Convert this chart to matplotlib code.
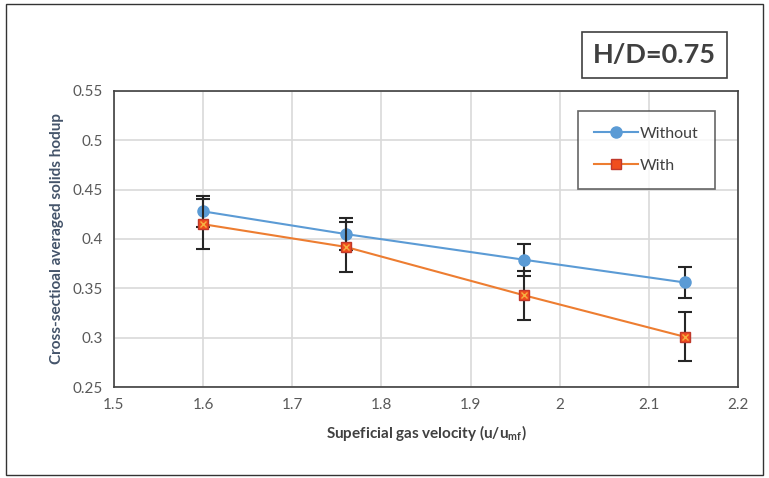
import matplotlib
matplotlib.use('Agg')
import matplotlib.pyplot as plt
from matplotlib.patches import Rectangle
from matplotlib.lines import Line2D

plt.rcParams['font.family'] = ['Lato', 'DejaVu Sans']

velocity = [1.6, 1.76, 1.96, 2.14]
holdup_without = [0.428, 0.405, 0.379, 0.356]
holdup_with = [0.415, 0.392, 0.343, 0.301]
err_without = [0.016, 0.016, 0.016, 0.016]
err_with = [0.025, 0.025, 0.025, 0.025]
x_ticks = [1.5, 1.6, 1.7, 1.8, 1.9, 2.0, 2.1, 2.2]
x_tick_labels = ['1.5', '1.6', '1.7', '1.8', '1.9', '2', '2.1', '2.2']
y_ticks = [0.25, 0.3, 0.35, 0.4, 0.45, 0.5, 0.55]
y_tick_labels = ['0.25', '0.3', '0.35', '0.4', '0.45', '0.5', '0.55']

fig = plt.figure(figsize=(7.69, 4.78), dpi=100)
ax = fig.add_axes([0.148, 0.190, 0.812, 0.620])

# outer chart border
fig.patches.append(Rectangle((0.008, 0.006), 0.984, 0.986, transform=fig.transFigure,
                             fill=False, edgecolor='#333333', linewidth=1.0))

ax.errorbar(velocity, holdup_without, yerr=err_without, color='#5B9BD5', lw=1.5,
            marker='o', ms=8, mfc='#5B9BD5', mec='#5B9BD5', ecolor='#262626',
            elinewidth=1.5, capsize=5, capthick=1.5, zorder=3)
ax.errorbar(velocity, holdup_with, yerr=err_with, color='#ED7D31', lw=1.5,
            marker='s', ms=7, mfc='#F04E1E', mec='#C0392B', ecolor='#262626',
            elinewidth=1.5, capsize=5, capthick=1.5, zorder=4)
ax.plot(velocity, holdup_with, ls='none', marker='x', ms=5, mew=1,
        color='#F5B041', zorder=5)

ax.set_xlim(1.5, 2.2)
ax.set_ylim(0.25, 0.55)
ax.set_xticks(x_ticks)
ax.set_xticklabels(x_tick_labels)
ax.set_yticks(y_ticks)
ax.set_yticklabels(y_tick_labels)
ax.tick_params(length=0, labelsize=11, labelcolor='#595959', pad=8)
ax.grid(True, color='#D9D9D9', lw=1.2)
ax.set_axisbelow(True)
for s in ax.spines.values():
    s.set_color('#404040')
    s.set_linewidth(1.2)

ax.set_xlabel('Supeficial gas velocity (u/u$_{\\mathregular{mf}}$)', fontsize=11,
              fontweight='bold', color='#404040', labelpad=8)
ax.set_ylabel('Cross-sectioal averaged solids hodup', fontsize=11,
              fontweight='bold', color='#44546A', labelpad=6)

handles = [
    Line2D([], [], color='#5B9BD5', lw=1.5, marker='o', ms=8, mfc='#5B9BD5', mec='#5B9BD5'),
    Line2D([], [], color='#ED7D31', lw=1.5, marker='s', ms=7, mfc='#F04E1E', mec='#C0392B'),
]
leg = ax.legend(handles, ['Without', 'With'], loc='upper right',
                bbox_to_anchor=(0.975, 0.96), fontsize=11.5,
                frameon=True, fancybox=False, borderpad=1.0, labelspacing=1.1,
                handlelength=2.8, handletextpad=0.1)
leg.get_frame().set_edgecolor('#404040')
leg.get_frame().set_linewidth(1.2)
for t in leg.get_texts():
    t.set_color('#404040')

fig.text(0.851, 0.885, 'H/D=0.75', fontsize=19.5, fontweight='bold', color='#404040',
         ha='center', va='center',
         bbox=dict(boxstyle='square,pad=0.4', fc='white', ec='#404040', lw=1.2))

fig.savefig('out.png', dpi=100)
